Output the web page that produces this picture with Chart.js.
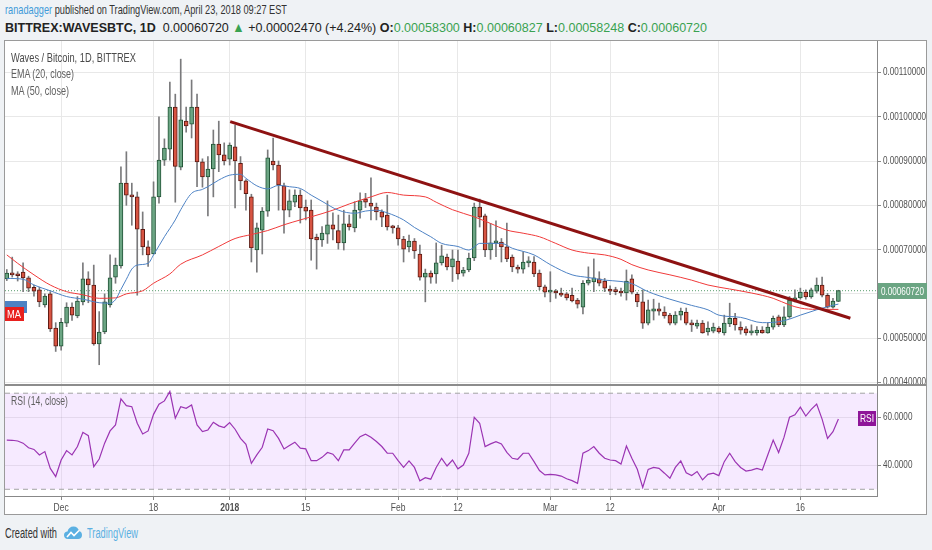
<!DOCTYPE html>
<html><head><meta charset="utf-8">
<script src="https://cdn.jsdelivr.net/npm/chart.js@4.4.0/dist/chart.umd.min.js"></script>
<style>
html,body{margin:0;padding:0;}
body{width:932px;height:550px;background:#eff2f5;position:relative;overflow:hidden;font-family:'Liberation Sans',Arial,sans-serif;}
.abs{position:absolute;white-space:nowrap;}
.fit{transform-origin:0 50%;}
#box{left:4px;top:40px;width:923px;height:475px;background:#fff;}
#frame{left:4px;top:40px;width:923px;height:475px;border:1px solid #9a9a9a;box-sizing:border-box;pointer-events:none;}
#sep{left:4px;top:384px;width:923px;height:2px;background:#8c8c8c;}
#w1{left:4px;top:40px;width:923px;height:344px;}
#w2{left:4px;top:385px;width:923px;height:130px;}
#hdr1{left:5px;top:1px;font-size:13.5px;color:#333;line-height:17px;}
#hdr1 .u{color:#3f9bd9;}
#hdr2{left:5px;top:19px;font-size:13.5px;color:#222;line-height:17px;}
#hdr2 b{font-weight:bold;color:#222;}
#hdr2 .g{color:#3aa251;}
.lg{left:11px;font-size:13px;color:#606060;line-height:16px;}
#priceBox{left:878px;width:49px;height:16px;background:#6ba583;}
#priceTxt{left:881px;color:#fff;font-size:11.5px;line-height:16px;}
#rsiBox{left:858px;width:18px;height:15px;background:#8e1599;}
#rsiTxt{left:860px;color:#fff;font-size:11.5px;line-height:15px;}
#emaBox{left:5px;width:22px;height:12px;background:#4d82c4;}
#maBox{left:5px;width:19px;height:14px;background:#e8201e;}
#maTxt{left:7px;color:#fff;font-size:11.5px;line-height:14px;}
#foot{left:5px;top:525px;font-size:14px;color:#333;line-height:17px;}
#tv{left:87px;top:525px;font-size:14px;color:#5bb0e2;line-height:17px;}
#logo{left:64px;top:526px;}
</style></head>
<body>
<div id="hdr1" class="abs fit"><span class="u">ranadagger</span> published on TradingView.com, April 23, 2018 09:27 EST</div>
<div id="hdr2" class="abs fit"><b>BITTREX:WAVESBTC, 1D</b>&nbsp; 0.00060720 <span class="g">▲</span> +0.00002470 (+4.24%) <b>O:</b><span class="g">0.00058300</span> <b>H:</b><span class="g">0.00060827</span> <b>L:</b><span class="g">0.00058248</span> <b>C:</b><span class="g">0.00060720</span></div>
<div id="box" class="abs"></div>
<div id="w1" class="abs"><canvas id="c1"></canvas></div>
<div id="w2" class="abs"><canvas id="c2"></canvas></div>
<div id="sep" class="abs"></div>
<div id="frame" class="abs"></div>
<div id="lg1" class="abs lg fit" style="top:50px;color:#4a4a4a;">Waves / Bitcoin, 1D, BITTREX</div>
<div id="lg2" class="abs lg fit" style="top:66px;">EMA (20, close)</div>
<div id="lg3" class="abs lg fit" style="top:83px;">MA (50, close)</div>
<div id="lg4" class="abs lg fit" style="top:393px;">RSI (14, close)</div>
<div id="priceBox" class="abs"></div>
<div id="priceTxt" class="abs fit">0.00060720</div>
<div id="rsiBox" class="abs"></div>
<div id="rsiTxt" class="abs fit">RSI</div>
<div id="emaBox" class="abs"></div>
<div id="maBox" class="abs"></div>
<div id="maTxt" class="abs fit">MA</div>
<div id="foot" class="abs fit">Created with</div>
<svg id="logo" class="abs" width="18" height="14" viewBox="0 0 18 14"><path d="M4 13 C1 13 0 11 0 9 C0 7 1.5 5.5 3.5 5.5 C4 2.5 6.5 0.5 9.5 0.5 C12.5 0.5 14.5 2.5 15 5 C16.8 5.3 18 7 18 9 C18 11.5 16.5 13 14 13 Z" fill="#5bb0e2"/><path d="M3 11 L7 6.5 L10 9.5 L15 4.5" stroke="#fff" stroke-width="1.6" fill="none"/></svg>
<div id="tv" class="abs fit">TradingView</div>
<script>
// Prices in units of 0.00001 BTC, one candle per day starting 2017-11-21
const UNIT = 1e-5;
const open  = [63.4,64.7,64.3,64.9,63.6,61.5,60.9,57.5,60.0,52.3, 48.2,53.4,57.0,55.0,58.2,63.4,62.0,48.7,51.4,57.5, 63.8,66.3,85.0,82.3,81.9,74.6,70.6,69.0,81.9,90.2, 92.7,102.2,88.6,99.0,98.3,102.2,89.8,86.4,88.2,93.8, 91.4,90.4,93.2,89.5,85.5,81.9,69.9,74.4,78.7,90.0, 89.1,84.4,78.9,80.7,82.3,79.6,78.9,72.8,72.2,73.5, 75.6,74.3,71.5,75.8,74.9,78.9,81.4,80.5,79.6,78.5, 77.8,75.1,74.9,72.4,70.6,71.9,69.0,63.8,64.7,64.5, 67.0,68.3,66.1,67.4,64.7,65.4,68.1,79.6,77.6,69.9, 71.5,71.7,70.6,68.3,65.8,65.6,67.0,67.2,64.7,61.6, 60.4,60.6,60.2,60.0,59.7,58.6,57.0,62.4,62.7,63.4, 62.9,61.1,60.9,60.4,60.2,63.4,59.9,58.2,53.4,56.1, 56.6,55.9,55.2,53.4,55.2,55.9,53.4,52.7,53.4,51.4, 51.6,52.3,51.2,53.2,54.5,52.5,52.1,51.2,51.2,51.8, 51.2,52.5,54.8,53.0,54.8,58.6,59.1,60.4,59.3,60.6, 62.0,59.7,57.0,58.3];
const high  = [65.5,68.3,65.0,67.0,64.0,62.0,61.5,60.0,60.5,53.5, 54.5,58.0,58.0,59.4,67.0,65.0,66.5,56.0,60.0,68.8, 68.1,88.7,92.1,85.0,83.0,78.5,72.0,85.3,100.0,95.0, 107.8,105.1,113.0,102.2,108.3,105.1,90.5,91.0,97.0,99.0, 94.1,94.1,98.1,91.0,85.8,82.5,76.0,79.5,92.5,95.2, 90.0,85.0,83.5,83.5,83.5,81.2,81.2,73.5,75.2,81.0, 78.3,77.8,78.9,77.8,80.8,82.8,82.7,86.2,80.5,79.0, 82.3,75.5,75.5,73.0,73.3,72.5,71.0,65.6,65.2,71.5, 71.0,69.0,69.9,69.9,66.0,69.2,80.5,81.4,78.0,75.9, 76.5,72.5,76.0,68.8,66.5,69.5,68.4,68.4,65.4,62.0, 65.0,61.0,61.3,60.3,61.3,59.0,63.0,66.1,67.9,65.0, 63.5,61.8,61.5,61.3,65.4,64.3,60.3,60.9,58.6,58.8, 57.9,57.1,55.6,56.0,56.8,56.8,54.1,54.1,54.0,53.7, 53.4,52.6,55.2,57.9,55.6,53.7,52.6,53.0,52.6,52.6, 53.4,55.0,55.2,57.1,59.4,60.9,61.3,60.9,61.3,63.6, 63.8,60.1,59.0,60.827];
const low   = [63.0,63.8,62.9,60.5,60.5,59.5,57.1,57.0,51.5,47.0, 47.3,52.6,54.0,54.6,57.5,58.0,48.4,44.0,51.0,57.0, 62.4,65.8,80.0,75.5,59.7,68.8,66.2,69.0,80.5,89.0, 90.2,80.7,88.0,96.5,95.2,84.2,84.1,77.6,81.9,87.6, 89.1,89.1,79.4,83.5,78.9,67.2,64.9,69.0,77.5,88.0, 78.9,73.7,77.4,79.7,76.0,76.7,67.6,65.6,70.7,71.4, 72.2,70.1,69.9,74.4,74.0,77.1,79.5,76.7,76.7,75.2, 74.4,73.7,71.0,67.2,69.5,68.0,63.1,58.2,62.4,62.4, 66.5,65.4,62.8,63.3,64.0,65.0,67.5,75.1,68.4,67.8, 68.4,67.2,67.3,65.0,64.7,64.7,66.1,63.9,60.9,59.3, 58.2,59.0,59.4,58.6,58.2,56.8,55.5,62.0,60.5,61.8, 60.5,59.8,59.8,59.5,58.6,60.0,57.1,52.2,53.0,54.1, 55.2,54.5,53.0,53.0,54.1,53.0,51.5,52.2,51.1,50.7, 51.2,51.1,50.7,52.6,51.8,50.9,50.7,50.7,50.7,51.1, 51.1,52.0,52.6,52.6,54.5,58.2,58.8,58.8,59.0,60.2, 59.3,56.8,56.8,58.248];
const close = [64.7,64.3,64.1,63.6,61.3,60.6,58.2,59.5,52.1,48.2, 53.6,57.0,55.2,58.4,63.4,62.0,48.7,51.4,58.2,63.6, 66.5,85.0,82.3,81.9,74.6,70.6,68.8,81.9,90.2,92.9, 102.2,88.8,99.3,97.9,102.2,89.8,86.4,88.2,93.8,91.4, 90.0,93.6,90.0,85.5,82.6,70.4,74.9,78.7,90.7,89.1, 84.6,78.9,81.0,82.3,79.4,78.7,72.4,72.2,73.7,75.6, 74.6,71.5,75.8,75.1,78.9,81.0,80.7,79.8,78.5,77.3, 75.1,74.9,72.4,70.1,71.9,69.7,63.8,64.7,63.8,67.0, 68.6,66.1,67.9,64.5,65.4,68.1,79.6,77.3,69.9,71.5, 71.9,70.6,67.9,66.1,65.6,67.2,67.4,64.5,61.6,60.4, 60.6,60.2,59.7,59.1,58.4,57.7,62.4,63.1,63.6,62.4, 61.3,60.6,60.5,60.2,62.9,60.4,58.2,53.4,56.4,56.6, 56.1,55.0,53.4,55.2,56.1,53.4,53.0,53.4,51.2,52.3, 52.5,51.4,53.4,54.5,53.0,51.8,51.2,51.4,51.8,51.2, 52.5,54.5,53.0,54.8,58.6,59.1,60.4,59.3,60.9,62.0, 59.7,57.0,58.4,60.72];

const emaDays = [0,3,5,8,11,14,17,19,20,21,22,23,24,26,27,29,31,32,34,36,37,39,41,43,44,46,48,50,52,54,56,58,61,64,66,68,70,73,75,78,80,83,85,86,87,91,93,97,100,104,107,110,113,115,118,122,126,129,131,135,139,142,144,146,149,151,153];
const emaVals = [63.5,63.3,62.0,60.7,59.4,58.8,58.0,57.9,58.7,61.0,63.3,65.6,66.5,66.9,68.8,72.9,76.7,79.0,82.7,83.6,84.2,85.7,86.8,87.0,86.1,84.4,83.7,84.5,84.2,83.8,82.3,80.9,78.9,78.2,78.7,78.9,78.3,76.7,75.0,72.9,71.4,70.7,69.9,70.6,71.4,71.4,70.3,68.8,66.6,64.3,63.7,63.1,62.8,62.3,60.5,58.8,57.4,56.4,55.2,54.7,53.5,53.7,54.3,55.2,56.4,57.1,57.7];
const maDays = [0,2,5,8,11,14,17,20,22,25,27,30,32,36,39,42,45,48,51,54,56,60,63,67,70,73,77,79,82,86,89,92,95,98,101,104,107,110,113,115,118,122,126,129,133,137,141,144,146,149,153];
const maVals = [68.8,66.9,64.3,62.0,60.5,59.8,59.0,59.1,60.0,60.7,62.4,64.5,66.7,68.8,70.7,72.5,73.4,74.3,75.6,76.7,77.4,78.9,80.3,81.9,82.9,82.3,81.9,80.7,79.0,77.4,75.9,74.4,73.7,72.9,71.4,69.9,69.2,68.8,67.8,66.6,65.4,64.3,63.1,62.0,61.1,60.2,59.0,57.5,56.8,56.5,56.5];
const rsiVals = [50.5,50.4,50.1,49.2,47.3,46.6,44.3,45.7,38.7,35.3, 42.2,46.1,44.3,47.8,53.7,52.3,39.4,42.6,49.2,54.3, 56.8,67.6,64.8,64.4,57.5,53.0,54.3,61.2,65.4,66.8, 70.7,59.6,64.4,63.7,65.1,56.8,54.0,54.7,57.9,56.4, 55.7,57.8,55.0,51.2,48.7,40.8,44.3,47.5,55.1,54.4, 51.2,46.8,48.2,49.6,47.1,46.8,41.9,41.9,43.3,45.3, 44.6,41.9,46.4,46.4,49.2,51.9,52.9,51.7,49.9,47.8, 45.0,45.0,41.9,39.1,41.8,39.1,33.5,34.8,34.2,39.1, 42.9,39.7,42.2,38.5,40.1,45.0,60.0,57.5,47.8,48.9, 49.8,48.9,45.4,42.9,42.5,45.0,45.0,41.5,37.8,36.0, 36.2,36.0,35.5,34.4,33.6,32.5,45.0,46.1,47.8,45.0, 42.9,42.2,41.9,40.5,48.0,42.9,38.3,30.8,38.3,39.1, 38.7,36.7,34.6,39.1,41.8,36.9,35.7,37.4,33.9,36.2, 36.7,35.7,41.5,45.0,41.5,39.1,37.6,38.0,38.7,38.0, 44.3,50.5,45.3,51.7,60.0,61.0,64.2,60.5,63.3,65.5, 59.2,51.2,54.0,59.3];
const trendDays = [41.1, 155.2];
const trendVals = [98.9, 54.5];
const tickDays = [10, 27, 41, 55, 72, 83, 100, 111, 131, 146];
const tickLabels = ['Dec', '18', '2018', '15', 'Feb', '12', 'Mar', '12', 'Apr', '16'];
const boldTick = '2018';
const priceTicks = [40, 50, 60, 70, 80, 90, 100, 110];
const rsiTicks = [40, 60];
const rsiBands = [70, 30];
const X_MIN = -0.33, X_MAX = 160.1;
const P_MIN = 39.65, P_MAX = 117.1;
const R_MIN = 27.2, R_MAX = 73.0;

Chart.defaults.font.family = "'Liberation Sans', Arial, sans-serif";
Chart.defaults.animation = false;
const UP = '#6ba583', DOWN = '#d75442', UPB = '#225437', DOWNB = '#5b1a13', WICK = '#7a7a7c';
const days = close.map((_, i) => i);
const last = close.length - 1;
const isUp = i => close[i] >= open[i];
const pts = (xs, ys) => xs.map((x, k) => ({x: x, y: ys[k]}));
const yFit = s => { s.width = 50; s.paddingTop = 0; s.paddingBottom = 0; };
const fixTicks = arr => s => { s.ticks = arr.map(v => ({value: v})); };

// narrow (condensed) axis lettering: squeeze each tick label horizontally around its anchor
function condenseText(canvas, sx) {
  const ctx = canvas.getContext('2d');
  const f = ctx.fillText.bind(ctx);
  ctx.fillText = function (t, x, y, mw) { ctx.save(); ctx.translate(x, y); ctx.scale(sx, 1); f(t, 0, 0); ctx.restore(); };
}
const c1 = document.getElementById('c1');
const c2 = document.getElementById('c2');
condenseText(c1, 0.74);
condenseText(c2, 0.74);

const main = new Chart(c1, {
  type: 'bar',
  data: { datasets: [
    {type: 'line', data: pts(trendDays, trendVals), borderColor: '#8e1212', borderWidth: 3, pointRadius: 0, order: 0},
    {type: 'line', data: pts(emaDays, emaVals), borderColor: '#4d82c4', borderWidth: 1, pointRadius: 0, cubicInterpolationMode: 'monotone', order: 1},
    {type: 'line', data: pts(maDays, maVals), borderColor: '#f03a3a', borderWidth: 1, pointRadius: 0, cubicInterpolationMode: 'monotone', order: 1},
    {type: 'line', data: [{x: X_MIN, y: close[last]}, {x: X_MAX, y: close[last]}], borderColor: '#5a9e6e', borderDash: [1, 2], borderWidth: 1, pointRadius: 0, order: 4},
    {type: 'bar', data: days.map(i => ({x: i, y: [open[i], close[i]]})),
      backgroundColor: c => isUp(c.dataIndex) ? UP : DOWN,
      borderColor: c => isUp(c.dataIndex) ? UPB : DOWNB,
      borderWidth: 1, borderSkipped: false, barThickness: 4, grouped: false, minBarLength: 2, order: 2},
    {type: 'bar', data: days.map(i => ({x: i, y: [low[i], high[i]]})), backgroundColor: WICK, barThickness: 1, grouped: false, order: 3}
  ]},
  options: {
    responsive: true, maintainAspectRatio: false, animation: false, events: [],
    layout: {padding: {left: 1, top: 1, right: 0, bottom: 0}},
    plugins: {legend: {display: false}, tooltip: {enabled: false}},
    scales: {
      x: {type: 'linear', min: X_MIN, max: X_MAX, offset: false, afterBuildTicks: fixTicks(tickDays),
          ticks: {display: false}, grid: {color: '#e8e8e8', drawTicks: false, offset: false}, border: {display: false},
          afterFit: s => { s.height = 0; s.paddingLeft = 0; s.paddingRight = 0; }},
      y: {type: 'linear', position: 'right', min: P_MIN, max: P_MAX, beginAtZero: false, afterBuildTicks: fixTicks(priceTicks),
          ticks: {callback: v => (v * UNIT).toFixed(8), color: '#505050', font: {size: 11}, padding: 2},
          grid: {color: '#e8e8e8', tickColor: '#888', tickLength: 4}, border: {color: '#888'}, afterFit: yFit}
    }
  }
});

const rsi = new Chart(c2, {
  type: 'line',
  data: { datasets: [
    {data: rsiVals.map((v, i) => ({x: i, y: v})), borderColor: '#9b34b3', borderWidth: 1.2, pointRadius: 0, order: 0},
    {data: [{x: X_MIN, y: rsiBands[0]}, {x: X_MAX, y: rsiBands[0]}], borderColor: '#a3a3a3', borderDash: [5, 4], borderWidth: 1, pointRadius: 0, order: 1},
    {data: [{x: X_MIN, y: rsiBands[1]}, {x: X_MAX, y: rsiBands[1]}], borderColor: '#a3a3a3', borderDash: [5, 4], borderWidth: 1, pointRadius: 0, order: 1,
      fill: '-1', backgroundColor: 'rgba(153,21,255,0.09)'}
  ]},
  options: {
    responsive: true, maintainAspectRatio: false, animation: false, events: [],
    layout: {padding: {left: 1, top: 1, right: 0, bottom: 0}},
    plugins: {legend: {display: false}, tooltip: {enabled: false}},
    scales: {
      x: {type: 'linear', min: X_MIN, max: X_MAX, offset: false, afterBuildTicks: fixTicks(tickDays),
          ticks: {autoSkip: false, maxRotation: 0, padding: 1, color: '#505050',
                  callback: v => tickLabels[tickDays.indexOf(v)] || '',
                  font: c => ({size: 11.5, weight: (c.tick && tickLabels[tickDays.indexOf(c.tick.value)] === boldTick) ? 'bold' : 'normal'})},
          grid: {color: 'rgba(0,0,0,0.07)', tickColor: '#888', tickLength: 4}, border: {color: '#888'},
          afterFit: s => { s.height = 19; s.paddingLeft = 0; s.paddingRight = 0; }},
      y: {type: 'linear', position: 'right', min: R_MIN, max: R_MAX, afterBuildTicks: fixTicks(rsiTicks),
          ticks: {callback: v => v.toFixed(4), color: '#505050', font: {size: 11}, padding: 2},
          grid: {color: 'rgba(0,0,0,0.08)', tickColor: '#888', tickLength: 4}, border: {color: '#888'}, afterFit: yFit}
    }
  }
});

// squeeze HTML lettering to the narrow widths of the original
function fit(id, w) {
  const el = document.getElementById(id);
  const cw = el.getBoundingClientRect().width;
  el.style.transform = 'scaleX(' + (w / cw) + ')';
}
fit('hdr1', 282); fit('hdr2', 702);
fit('lg1', 125); fit('lg2', 63); fit('lg3', 58); fit('lg4', 57);
fit('foot', 52); fit('tv', 51);
fit('priceTxt', 43); fit('rsiTxt', 14); fit('maTxt', 14);

// Place value labels using the charts' own scales
function place(boxId, txtId, top, h) {
  document.getElementById(boxId).style.top = (top - h / 2) + 'px';
  document.getElementById(txtId).style.top = (top - h / 2) + 'px';
}
place('priceBox', 'priceTxt', 40 + main.scales.y.getPixelForValue(close[last]), 16);
place('rsiBox', 'rsiTxt', 385 + rsi.scales.y.getPixelForValue(rsiVals[last]), 15);
place('maBox', 'maTxt', 40 + main.scales.y.getPixelForValue(maVals[maVals.length - 1]) + 5, 14);
document.getElementById('emaBox').style.top = (40 + main.scales.y.getPixelForValue(emaVals[emaVals.length - 1]) - 3) + 'px';
</script>
</body></html>
